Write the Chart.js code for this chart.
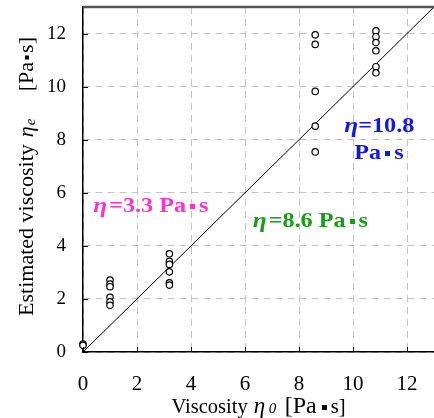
<!DOCTYPE html>
<html>
<head>
<meta charset="utf-8">
<script src="https://cdn.jsdelivr.net/npm/chart.js@4.4.1/dist/chart.umd.min.js"></script>
<style>
  html, body { margin: 0; padding: 0; background: #fff; }
  #wrap { width: 434px; height: 418px; }
</style>
</head>
<body>
<div id="wrap"><canvas id="c" width="434" height="418"></canvas></div>
<script>
// ---- data ----
const trueViscosity = [0, 1.0, 3.2, 8.6, 10.85];           // η0 groups [Pa·s]
const estimatesAt0   = [0.3, 0.25];
const estimatesAt1   = [2.71, 2.56, 2.46, 2.06, 1.89, 1.76];
const estimatesAt3_2 = [3.7, 3.42, 3.3, 3.02, 2.61, 2.52];
const estimatesAt8_6 = [11.95, 11.59, 9.82, 8.51, 7.54];
const estimatesAt10_8 = [12.1, 11.88, 11.66, 11.35, 10.75, 10.52];
const estimateGroups = [estimatesAt0, estimatesAt1, estimatesAt3_2, estimatesAt8_6, estimatesAt10_8];
const identityLine = [0, 13];                               // y = x reference line
const xTicks = [0, 2, 4, 6, 8, 10, 12];
const yTicks = [0, 2, 4, 6, 8, 10, 12];
const labelValues = ['3.3', '8.6', '10.8'];

// build scatter points from the arrays
const scatterPoints = [];
trueViscosity.forEach((x, i) => estimateGroups[i].forEach(y => scatterPoints.push({x: x, y: y})));
const linePoints = identityLine.map(v => ({x: v, y: v}));

const SERIF = "'Liberation Serif', 'Times New Roman', serif";

// draw a sequence of text runs; sq=true draws the small square middle dot, gap=true is blank space
function runWidth(ctx, r, sx) {
  if (r.adv != null) return r.adv;
  if (r.sq || r.gap) return r.w * sx;
  ctx.font = r.f;
  return ctx.measureText(r.t).width * sx;
}
function drawRuns(ctx, runs, x, y, align, color, sx) {
  sx = sx || 1;
  let total = 0;
  runs.forEach(r => total += runWidth(ctx, r, sx));
  let cx = align === 'center' ? x - total / 2 : x;
  ctx.fillStyle = color;
  ctx.textBaseline = 'alphabetic';
  ctx.textAlign = 'left';
  runs.forEach(r => {
    const w = runWidth(ctx, r, sx);
    if (r.sq) {
      ctx.fillRect(Math.round(cx + (w - r.s) / 2), Math.round(y - r.h - r.s / 2), r.s, r.s);
    } else if (!r.gap) {
      ctx.save();
      ctx.font = r.f;
      ctx.translate(cx + (r.dx || 0), y + (r.dy || 0));
      ctx.scale(sx, 1);
      ctx.fillText(r.t, 0, 0);
      ctx.restore();
    }
    cx += w;
  });
}

const AF = "bold 21px " + SERIF;
const AFI = "italic bold 22px " + SERIF;
function valueLabel(v, wideEta) {
  const runs = [{t: 'η', f: AFI, adv: wideEta ? 17 : null, dx: wideEta ? 1 : 0}, {t: '=' + v + ' Pa', f: AF}];
  runs.push({sq: true, w: 0, adv: 13, s: 5, h: 6});
  runs.push({t: 's', f: AF});
  return runs;
}

const annotations = [
  {runs: valueLabel(labelValues[0], true), x: 0.34, y: 5.27, color: '#ff33cc'},
  {runs: valueLabel(labelValues[1], true), x: 6.25, y: 4.71, color: '#1a9c1a'},
  {runs: [{t: 'η', f: AFI}, {t: '=' + labelValues[2], f: AF}], x: 9.68, y: 8.29, color: '#1414f0'},
  {runs: [{t: 'Pa', f: AF}, {sq: true, w: 0, adv: 13, s: 5, h: 6}, {t: 's', f: AF}], x: 10.05, y: 7.27, color: '#1414f0'}
];

const decorPlugin = {
  id: 'decor',
  afterDraw(chart) {
    const ctx = chart.ctx;
    const a = chart.chartArea;
    const xs = chart.scales.x, ys = chart.scales.y;
    ctx.save();
    // top frame line
    ctx.strokeStyle = '#555';
    ctx.lineWidth = 2.5;
    ctx.beginPath();
    ctx.moveTo(a.left, a.top);
    ctx.lineTo(a.right, a.top);
    ctx.stroke();
    // inner tick marks
    ctx.strokeStyle = '#000';
    ctx.lineWidth = 1;
    xTicks.forEach(v => {
      const px = Math.round(xs.getPixelForValue(v)) + 0.5;
      ctx.beginPath(); ctx.moveTo(px, a.bottom); ctx.lineTo(px, a.bottom - 5); ctx.stroke();
    });
    yTicks.forEach(v => {
      const py = Math.round(ys.getPixelForValue(v)) + 0.5;
      ctx.beginPath(); ctx.moveTo(a.left, py); ctx.lineTo(a.left + 5, py); ctx.stroke();
    });
    // annotations
    annotations.forEach(an => {
      drawRuns(ctx, an.runs, xs.getPixelForValue(an.x), ys.getPixelForValue(an.y), 'left', an.color, 1.15);
    });
    // x axis title
    const tf = "20.5px " + SERIF;
    drawRuns(ctx, [
      {t: 'Viscosity', f: tf}, {gap: true, w: 5},
      {t: 'η', f: "italic 23px " + SERIF, adv: 16, dx: 1},
      {t: '0', f: "italic 15px " + SERIF, adv: 10},
      {gap: true, w: 6},
      {t: '[Pa', f: "24px " + SERIF, adv: 34},
      {sq: true, w: 0, adv: 12, s: 5, h: 6},
      {t: 's]', f: tf}
    ], (a.left + a.right) / 2, 413, 'center', '#000', 1);
    // y axis title (rotated)
    const yf = "22px " + SERIF;
    ctx.save();
    ctx.translate(33, (a.top + a.bottom) / 2 - 3);
    ctx.rotate(-Math.PI / 2);
    drawRuns(ctx, [
      {t: 'Estimated viscosity', f: yf}, {gap: true, w: 7},
      {t: 'η', f: "italic 22px " + SERIF, adv: 12},
      {t: 'e', f: "italic 15px " + SERIF, dy: 2, adv: 7},
      {gap: true, w: 27},
      {t: '[Pa', f: yf}, {sq: true, w: 0, adv: 9, s: 4, h: 6}, {t: 's]', f: yf}
    ], 0, 0, 'center', '#000', 1);
    ctx.restore();
    ctx.restore();
  }
};

const gridCommon = { color: '#c4c4c4', lineWidth: 1, drawTicks: false, tickLength: 0 };

function noPad(s) { s.paddingTop = 0; s.paddingBottom = 0; s.paddingLeft = 0; s.paddingRight = 0; }

new Chart(document.getElementById('c'), {
  type: 'scatter',
  data: {
    datasets: [
      {
        label: 'estimates',
        data: scatterPoints,
        pointStyle: 'circle',
        pointRadius: 3.2,
        pointBorderWidth: 1.2,
        pointBorderColor: '#000',
        pointBackgroundColor: '#fff',
        showLine: false,
        clip: false
      },
      {
        label: 'y=x',
        data: linePoints,
        showLine: true,
        borderColor: '#000',
        borderWidth: 1,
        pointRadius: 0,
        fill: false
      }
    ]
  },
  options: {
    responsive: false,
    animation: false,
    devicePixelRatio: 1,
    layout: { padding: { top: 7, right: 0, left: 0, bottom: 0 }, autoPadding: false },
    plugins: { legend: { display: false }, tooltip: { enabled: false } },
    scales: {
      x: {
        type: 'linear', position: 'bottom', min: 0, max: 13,
        afterFit(s) { s.height = 66; noPad(s); },
        afterBuildTicks(s) { s.ticks = xTicks.map(v => ({value: v})); },
        ticks: { stepSize: 2, includeBounds: false, color: '#000', padding: 20, maxRotation: 0,
                 font: { family: SERIF, size: 21 } },
        grid: gridCommon,
        border: { display: true, color: '#000', width: 1.5, dash: [7, 5] }
      },
      y: {
        type: 'linear', position: 'left', min: 0, max: 13,
        afterFit(s) { s.width = 83; noPad(s); },
        afterBuildTicks(s) { s.ticks = yTicks.map(v => ({value: v})); },
        ticks: { stepSize: 2, includeBounds: false, color: '#000', padding: 17,
                 font: { family: SERIF, size: 19 } },
        grid: gridCommon,
        border: { display: true, color: '#000', width: 1.5, dash: [7, 5] }
      }
    }
  },
  plugins: [decorPlugin]
});
</script>
</body>
</html>
